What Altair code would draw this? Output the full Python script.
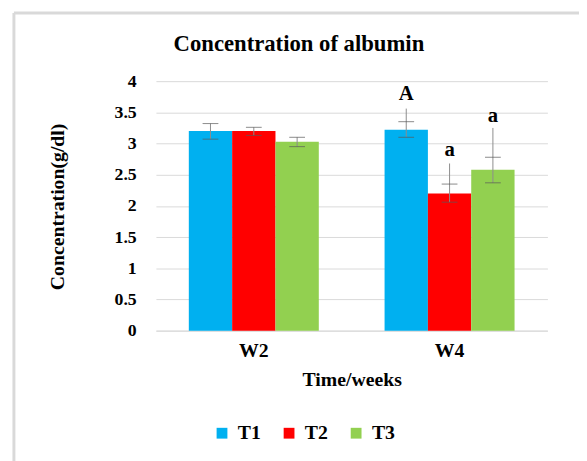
import altair as alt
import pandas as pd

weeks = ["W2", "W2", "W2", "W4", "W4", "W4"]
treatments = ["T1", "T2", "T3", "T1", "T2", "T3"]
means = [3.20, 3.20, 3.03, 3.22, 2.20, 2.58]
err_low = [3.07, 3.13, 2.95, 3.10, 2.06, 2.37]
err_high = [3.32, 3.26, 3.10, 3.35, 2.35, 2.78]
line_top = [3.32, 3.26, 3.10, 3.56, 2.68, 3.25]
letters = ["", "", "", "A", "a", "a"]
letter_y = [0, 0, 0, 3.79, 2.89, 3.44]

colors = ["#00B0F0", "#FF0000", "#92D050"]
y_ticks = [0, 0.5, 1, 1.5, 2, 2.5, 3, 3.5, 4]
title_text = "Concentration of albumin"

df = pd.DataFrame({
    "Week": weeks, "Treatment": treatments, "Mean": means,
    "Low": err_low, "High": err_high, "Top": line_top,
    "Letter": letters, "LetterY": letter_y,
})

FONT = "Liberation Serif"

x_axis = alt.Axis(title="Time/weeks", labelAngle=0, ticks=False,
                  domain=True, domainColor="#d9d9d9",
                  labelFont=FONT, labelFontWeight="bold", labelFontSize=20,
                  labelColor="black", labelPadding=10,
                  titleFont=FONT, titleFontWeight="bold", titleFontSize=20,
                  titleColor="black", titleY=50, titleBaseline="middle")
y_axis = alt.Axis(title="Concentration(g/dl)", values=y_ticks, ticks=False,
                  domain=False, grid=True, gridColor="#d9d9d9",
                  format="~g", labelOverlap=False,
                  labelFont=FONT, labelFontWeight="bold", labelFontSize=18,
                  labelColor="black", labelPadding=20, labelFlush=False,
                  titleFont=FONT, titleFontWeight="bold", titleFontSize=20,
                  titleColor="black", titleX=-100, titleY=127,
                  titleAlign="center", titleBaseline="middle")
x_scale = alt.Scale(paddingInner=0.336, paddingOuter=0.168)
y_scale = alt.Scale(domain=[0, 4], nice=False)


def xe():
    return alt.X("Week:N", sort=["W2", "W4"], scale=x_scale, axis=x_axis)


def ye(field):
    return alt.Y(field, scale=y_scale, axis=y_axis)


xo = alt.XOffset("Treatment:N", sort=["T1", "T2", "T3"],
                 scale=alt.Scale(paddingInner=0, paddingOuter=0))

base = alt.Chart(df)

bars = base.mark_bar().encode(
    x=xe(), xOffset=xo, y=ye("Mean:Q"),
    color=alt.Color("Treatment:N", sort=["T1", "T2", "T3"],
                    scale=alt.Scale(domain=["T1", "T2", "T3"], range=colors),
                    legend=alt.Legend(title=None, orient="none", direction="horizontal",
                                      legendX=57, legendY=347, symbolType="square",
                                      symbolSize=120, symbolStrokeWidth=0,
                                      labelFont=FONT, labelFontWeight="bold",
                                      labelFontSize=20, labelColor="black",
                                      columnPadding=18, labelOffset=6)),
)

stems = base.mark_rule(color="#8c8c8c", strokeWidth=1).encode(
    x=xe(), xOffset=xo, y=ye("Low:Q"), y2="Top:Q",
)
caps_low = base.mark_tick(color="#595959", thickness=1, size=16, orient="horizontal").encode(
    x=xe(), xOffset=xo, y=ye("Low:Q"),
)
caps_high = base.mark_tick(color="#595959", thickness=1, size=16, orient="horizontal").encode(
    x=xe(), xOffset=xo, y=ye("High:Q"),
)
labels = base.transform_filter(alt.datum.Letter != "").mark_text(
    font=FONT, fontWeight="bold", fontSize=21, color="black", baseline="middle"
).encode(
    x=xe(), xOffset=xo, y=ye("LetterY:Q"), text="Letter:N",
)

one = pd.DataFrame({"t": [title_text]})
title = alt.Chart(one).mark_text(
    font=FONT, fontWeight="bold", fontSize=23, color="black", baseline="middle", align="center"
).encode(x=alt.value(145), y=alt.value(-38), text="t:N")

border = alt.Chart(one).mark_rule(color="#d9d9d9", strokeWidth=3).encode(
    x=alt.value(-144), y=alt.value(-69), y2=alt.value(400)
)
border_top = alt.Chart(one).mark_rule(color="#d9d9d9", strokeWidth=3).encode(
    x=alt.value(-144), x2=alt.value(440), y=alt.value(-69)
)

chart = alt.layer(border, border_top, title, bars, stems, caps_low, caps_high, labels).properties(
    width=397, height=253,
    autosize=alt.AutoSizeParams(type="none"),
    padding={"left": 150, "top": 71, "right": 32, "bottom": 129},
).configure_view(stroke=None)

chart.save("out.html", embed_options={"renderer": "svg", "actions": False})
